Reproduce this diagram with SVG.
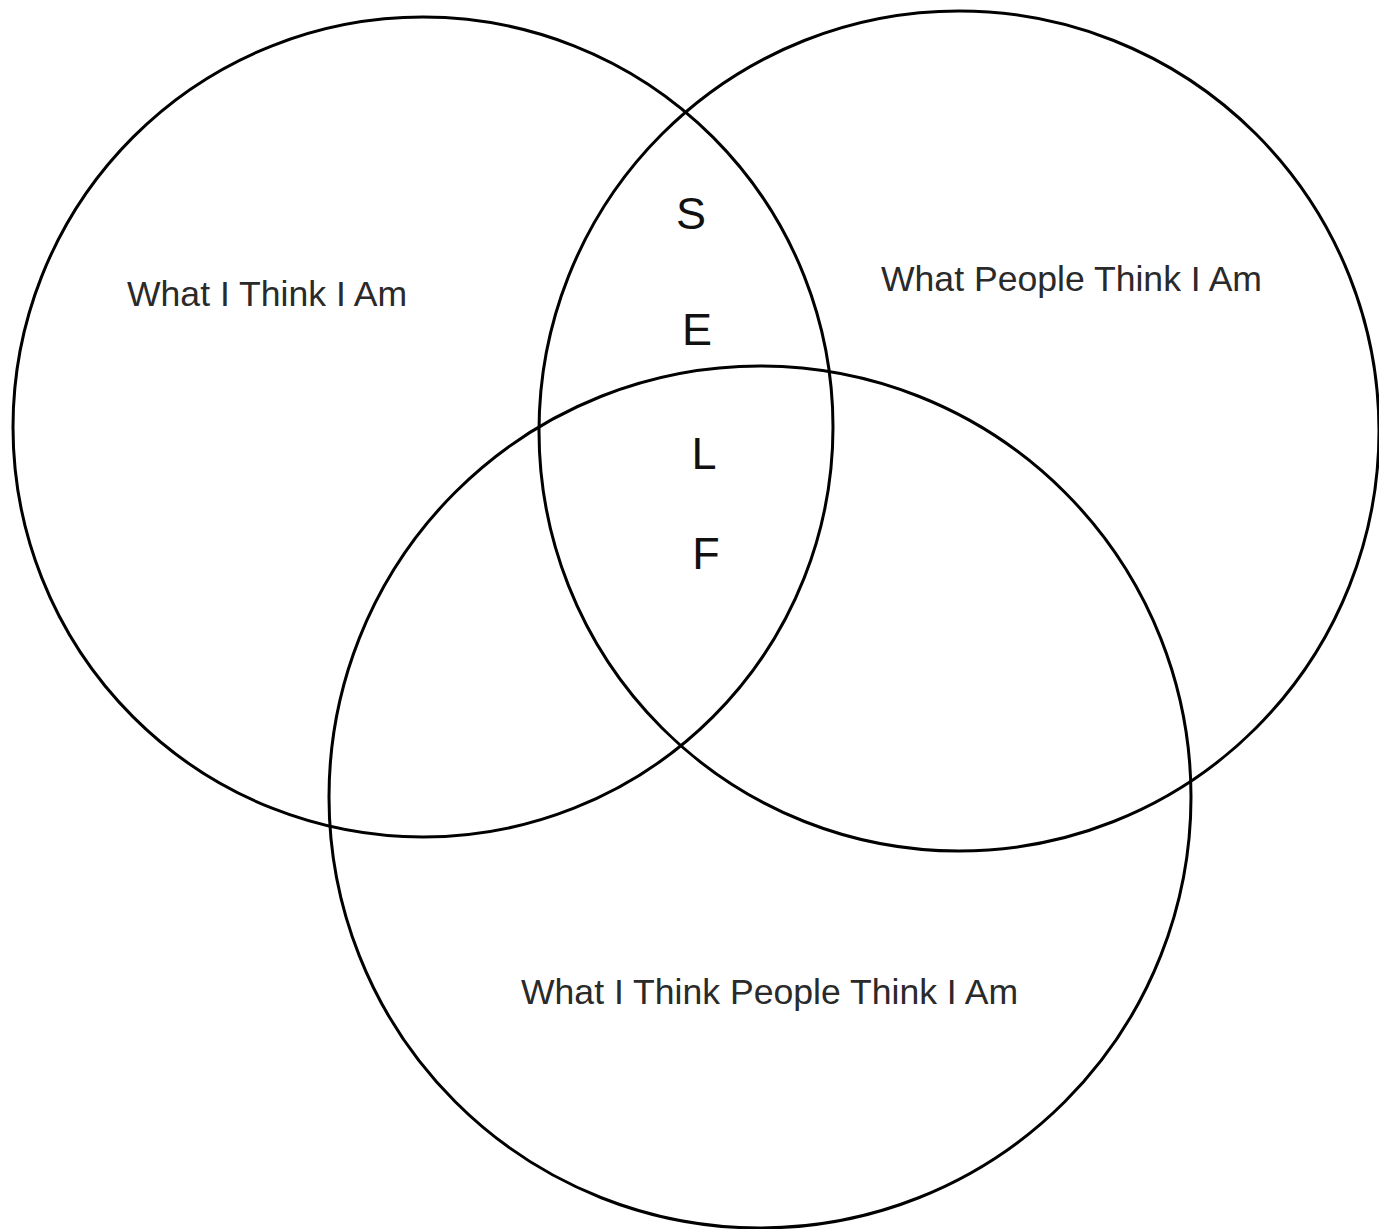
<svg xmlns="http://www.w3.org/2000/svg" width="1379" height="1229" viewBox="0 0 1379 1229">
<style>
.c{fill:none;stroke:#000;stroke-width:3}
.t{font-family:"Liberation Sans",Arial,sans-serif;font-size:35.6px;fill:#2a2a2a}
.l{font-family:"Liberation Sans",Arial,sans-serif;font-size:45px;fill:#111;text-anchor:middle}
</style>
<rect width="1379" height="1229" fill="#fff"/>
<g id="circle-self">
<circle class="c" cx="423" cy="427" r="410"/>
<text class="t" x="127" y="306">What I Think I Am</text>
</g>
<g id="circle-people">
<circle class="c" cx="959" cy="431" r="420"/>
<text class="t" x="881" y="291">What People Think I Am</text>
</g>
<g id="circle-think-people">
<circle class="c" cx="760" cy="797" r="431"/>
<text class="t" x="521" y="1004">What I Think People Think I Am</text>
</g>
<g id="self-letters">
<text class="l" x="691" y="229">S</text>
<text class="l" x="697" y="345">E</text>
<text class="l" x="704" y="469">L</text>
<text class="l" x="706" y="569">F</text>
</g>
<g id="connectors"/>
</svg>
